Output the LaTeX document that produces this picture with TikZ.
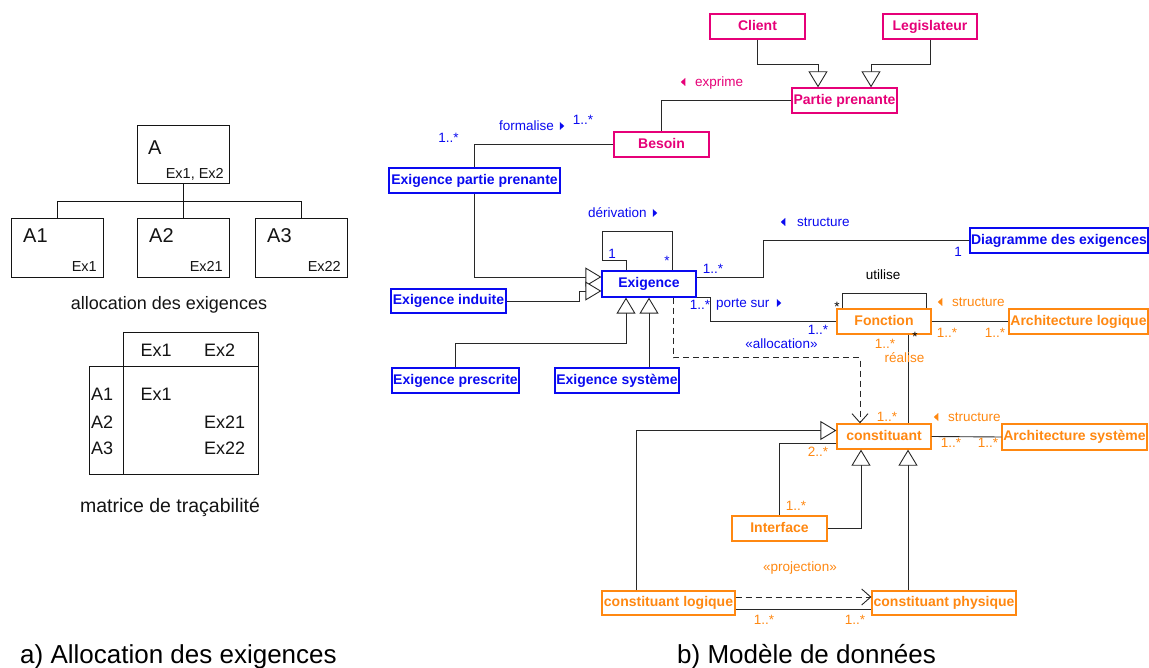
\documentclass[tikz,border=0pt]{standalone}
\usepackage{fontspec}
\setmainfont{Liberation Sans}
\usetikzlibrary{arrows.meta}
\definecolor{pk}{RGB}{230,0,120}
\definecolor{bl}{RGB}{10,10,240}
\definecolor{og}{RGB}{255,136,17}
\definecolor{ln}{RGB}{40,40,40}
\definecolor{tx}{RGB}{20,20,20}
\tikzset{
 cls/.style={draw, line width=1.3pt, fill=white, inner sep=0pt, font=\fontsize{14}{16}\selectfont\bfseries, minimum height=25pt, text height=10.08pt, text depth=2.52pt},
 pkbox/.style={cls, draw=pk, text=pk},
 blbox/.style={cls, draw=bl, text=bl},
 ogbox/.style={cls, draw=og, text=og},
 conn/.style={draw=ln, line width=0.9pt},
 gen/.style={conn, -{Triangle[length=16pt,width=19pt,fill=white]}},
 dep/.style={conn, dash pattern=on 6pt off 4pt, -{Straight Barb[length=9pt,width=16pt]}},
 lbl/.style={font=\fontsize{13.5}{15}\selectfont, inner sep=0pt, text height=9.72pt, text depth=0pt},
 lpk/.style={lbl, text=pk},
 lbl2/.style={lbl, text=bl},
 log/.style={lbl, text=og},
 lbk/.style={lbl, text=black},
 abox/.style={draw=tx, line width=0.9pt, inner sep=0pt, minimum width=92pt},
 big/.style={font=\fontsize{20}{22}\selectfont, inner sep=0pt, text=tx, text height=14.4pt, text depth=0pt},
 sml/.style={font=\fontsize{14.5}{16}\selectfont, inner sep=0pt, text=tx, text height=10.44pt, text depth=0pt},
 tab/.style={font=\fontsize{18}{20}\selectfont, inner sep=0pt, text=tx, text height=12.96pt, text depth=0pt},
 captxt/.style={font=\fontsize{26}{30}\selectfont, inner sep=0pt, text=black, text height=18.72pt, text depth=0pt},
}
\begin{document}
\begin{tikzpicture}[x=1pt,y=-1pt]
\useasboundingbox[fill=white] (0,0) rectangle (1149,668);

% ---------- a) left part ----------
\node[abox, minimum height=58pt] (A) at (183,154) {};
\node[abox, minimum height=59pt] (A1) at (57,247.5) {};
\node[abox, minimum height=59pt] (A2) at (183,247.5) {};
\node[abox, minimum height=59pt] (A3) at (301,247.5) {};
\draw[draw=tx, line width=0.9pt] (A.south) -- (A2.north);
\draw[draw=tx, line width=0.9pt] (A.south) ++(0,18) -| (A1.north);
\draw[draw=tx, line width=0.9pt] (A.south) ++(0,18) -| (A3.north);
\node[big, anchor=west] (tA) at (148,147) {A};
\node[sml, anchor=east] (eA) at (224,173) {Ex1, Ex2};
\node[big, anchor=west] (tA1) at (23,235) {A1};
\node[sml, anchor=east] (eA1) at (97,266) {Ex1};
\node[big, anchor=west] (tA2) at (149,235) {A2};
\node[sml, anchor=east] (eA2) at (223,266) {Ex21};
\node[big, anchor=west] (tA3) at (267,235) {A3};
\node[sml, anchor=east] (eA3) at (341,266) {Ex22};
\node[tab] (alloc) at (169,303) {allocation des exigences};

\draw[draw=tx, line width=0.9pt] (123,332) -- (258,332) -- (258,474) -- (89,474) -- (89,366) -- (258,366);
\draw[draw=tx, line width=0.9pt] (123,332) -- (123,474);
\node[tab, anchor=west] (h1) at (140.5,350) {Ex1};
\node[tab, anchor=west] (h2) at (204,350) {Ex2};
\node[tab, anchor=west] (r1) at (91,394) {A1};
\node[tab, anchor=west] (r2) at (91,422) {A2};
\node[tab, anchor=west] (r3) at (91,448) {A3};
\node[tab, anchor=west] (c1) at (140.5,394) {Ex1};
\node[tab, anchor=west] (c2) at (204,422) {Ex21};
\node[tab, anchor=west] (c3) at (204,448) {Ex22};
\node[tab, font=\fontsize{19.5}{21}\selectfont] (matr) at (170,506) {matrice de traçabilité};

\node[captxt, anchor=west] (capa) at (20,654.5) {a) Allocation des exigences};
\node[captxt, anchor=west] (capb) at (677,654.5) {b) Modèle de données};

% ---------- b) classes ----------
\node[pkbox, minimum width=95pt] (client) at (757.5,26.5) {Client};
\node[pkbox, minimum width=94pt] (legis) at (930,26.5) {Legislateur};
\node[pkbox, minimum width=105pt] (partie) at (844.5,100.5) {Partie prenante};
\node[pkbox, minimum width=95pt] (besoin) at (661.5,144.5) {Besoin};

\node[blbox, minimum width=171pt] (epp) at (474.5,180.5) {Exigence partie prenante};
\node[blbox, minimum width=94pt, minimum height=26pt] (exig) at (649,284) {Exigence};
\node[blbox, minimum width=115pt, minimum height=24pt] (eind) at (448.5,301) {Exigence induite};
\node[blbox, minimum width=127pt] (epres) at (455.5,380.5) {Exigence prescrite};
\node[blbox, minimum width=124pt] (esys) at (617,380.5) {Exigence système};
\node[blbox, minimum width=178pt] (diag) at (1059,240.5) {Diagramme des exigences};

\node[ogbox, minimum width=94pt] (fonction) at (884,321.5) {Fonction};
\node[ogbox, minimum width=139pt] (alog) at (1078.5,321.5) {Architecture logique};
\node[ogbox, minimum width=94pt] (constituant) at (884,436.5) {constituant};
\node[ogbox, minimum width=145pt, minimum height=26pt] (asys) at (1074.5,437) {Architecture système};
\node[ogbox, minimum width=95pt] (interface) at (779.5,528.5) {Interface};
\node[ogbox, minimum width=133pt, minimum height=24pt] (clog) at (668.5,603) {constituant logique};
\node[ogbox, minimum width=144pt, minimum height=24pt] (cphys) at (944,603) {constituant physique};

% ---------- connectors ----------
\draw[gen] (client.south) -- ++(0,25) -| ([xshift=-26.5pt]partie.north);
\draw[gen] (legis.south) -- ++(0,25) -| ([xshift=26.5pt]partie.north);
\draw[conn] (partie.west) -| (besoin.north);
\draw[conn] (besoin.west) -| (epp.north);
\draw[gen] (epp.south) |- ([yshift=7pt]exig.west);
\draw[gen] (eind.east) -- ++(73,0) |- ([yshift=-7pt]exig.west);
\draw[gen] (epres.north) -- ++(0,-24) -| ([xshift=-23pt]exig.south);
\draw[gen] (exig.south |- esys.north) -- (exig.south);
\draw[conn] ([xshift=-23pt]exig.north) -- ++(0,-10) -| ++(-24,-29) -| ([xshift=23pt]exig.north);
\draw[conn] ([yshift=7pt]exig.east) -- ++(67,0) |- (diag.west);
\draw[conn] (exig.south east) -- ++(14,0) |- (fonction.west);
\draw[dep] ([xshift=24pt]exig.south) -- ++(0,60) -| ([xshift=-24pt]constituant.north);
\draw[conn] ([xshift=-42pt]fonction.north) -- ++(0,-15) -| ([xshift=42pt]fonction.north);
\draw[conn] (fonction.east) -- (alog.west);
\draw[conn] ([xshift=24pt]fonction.south) -- ([xshift=24pt]constituant.north);
\draw[conn] (constituant.east) -- (asys.west);
\draw[gen] ([xshift=-32.5pt]clog.north) |- ([yshift=6pt]constituant.west);
\draw[conn] ([yshift=-6.5pt]constituant.west) -| (interface.north);
\draw[gen] (interface.east) -| ([xshift=-23pt]constituant.south);
\draw[gen] ([xshift=-36pt]cphys.north) -- ([xshift=24pt]constituant.south);
\draw[dep] ([yshift=6pt]clog.east) -- ([yshift=6pt]cphys.west);
\draw[conn] ([yshift=-6pt]clog.east) -- ([yshift=-6pt]cphys.west);

% ---------- labels ----------
\fill[pk] (683,82) ++(-2.25,0) -- ++(4.5,-4) -- ++(0,8) -- cycle;
\node[lpk, anchor=west] (lexp) at (695,82) {exprime};

\node[lbl2, anchor=east] (lform) at (554,126) {formalise};
\fill[bl] (562,126) ++(2.25,0) -- ++(-4.5,-4) -- ++(0,8) -- cycle;
\node[lbl2] (lm1) at (583,120) {1..*};
\node[lbl2] (lm2) at (448.5,138) {1..*};
\node[lbl2, anchor=west] (lder) at (588,213) {dérivation};
\fill[bl] (655,213) ++(2.25,0) -- ++(-4.5,-4) -- ++(0,8) -- cycle;
\node[lbl2] (lm3) at (612,254) {1};
\node[lbl2] (lm4) at (667,261) {*};
\node[lbl2] (lm5) at (713,269) {1..*};
\node[lbl2] (lm6) at (958,252) {1};
\fill[bl] (783,222) ++(-2.25,0) -- ++(4.5,-4) -- ++(0,8) -- cycle;
\node[lbl2, anchor=west] (lstr1) at (797,222) {structure};
\node[lbl2, anchor=west] (lport) at (716,303) {porte sur};
\fill[bl] (779,303) ++(2.25,0) -- ++(-4.5,-4) -- ++(0,8) -- cycle;
\node[lbl2] (lm7) at (700,305) {1..*};
\node[lbl2] (lm8) at (818,330) {1..*};
\node[lbl2] (lalloc) at (781.5,344) {«allocation»};

\node[lbk] (luti) at (883,275) {utilise};
\node[lbk] (lst1) at (837,307) {*};
\node[lbk] (lst2) at (915,337) {*};

\fill[og] (940,302) ++(-2.25,0) -- ++(4.5,-4) -- ++(0,8) -- cycle;
\node[log, anchor=west] (lstr2) at (952,302) {structure};
\node[log] (lm9) at (947,333) {1..*};
\node[log] (lm10) at (995,333) {1..*};
\node[log] (lm11) at (885,344) {1..*};
\node[log] (lreal) at (904.5,358) {réalise};
\node[log] (lm12) at (887,417) {1..*};
\fill[og] (936,417) ++(-2.25,0) -- ++(4.5,-4) -- ++(0,8) -- cycle;
\node[log, anchor=west] (lstr3) at (948,417) {structure};
\node[log] (lm13) at (951,443) {1..*};
\node[log] (lm14) at (988,443) {1..*};
\node[log] (lm15) at (818,452) {2..*};
\node[log] (lm16) at (796,506) {1..*};
\node[log] (lproj) at (800,567) {«projection»};
\node[log] (lm17) at (764,620) {1..*};
\node[log] (lm18) at (855,620) {1..*};
\end{tikzpicture}
\end{document}
